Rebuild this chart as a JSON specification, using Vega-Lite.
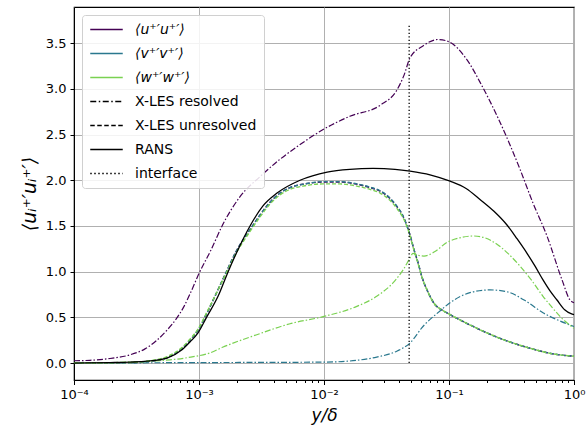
{
  "$schema": "https://vega.github.io/schema/vega-lite/v6.json",
  "width": 500,
  "height": 373,
  "autosize": {"type": "none"},
  "padding": {"left": 74, "top": 7, "right": 12, "bottom": 52},
  "background": "white",
  "config": {
    "font": "DejaVu Sans",
    "view": {"stroke": "black", "strokeWidth": 1.2},
    "line": {"interpolate": "monotone"},
    "axis": {
      "labelFont": "DejaVu Sans",
      "labelFontSize": 13,
      "labelColor": "#000000",
      "titleFont": "DejaVu Sans",
      "titleFontSize": 17,
      "titleFontWeight": "normal",
      "titleFontStyle": "italic",
      "titleColor": "#000000",
      "gridColor": "#b0b0b0",
      "gridWidth": 1,
      "tickColor": "#000000",
      "domainColor": "#000000",
      "tickSize": 4
    }
  },
  "datasets": {
    "u_res": [
      {"x": 0.0001, "v": 0.025}, {"x": 0.000134, "v": 0.03}, {"x": 0.000194, "v": 0.05}, {"x": 0.000281, "v": 0.09},
      {"x": 0.00037, "v": 0.155}, {"x": 0.000461, "v": 0.25}, {"x": 0.000555, "v": 0.36}, {"x": 0.000655, "v": 0.48},
      {"x": 0.000759, "v": 0.62}, {"x": 0.000863, "v": 0.78}, {"x": 0.001, "v": 0.98}, {"x": 0.00125, "v": 1.24},
      {"x": 0.00153, "v": 1.5}, {"x": 0.00213, "v": 1.82}, {"x": 0.00308, "v": 2.04}, {"x": 0.00445, "v": 2.23},
      {"x": 0.00643, "v": 2.39}, {"x": 0.01, "v": 2.56}, {"x": 0.0161, "v": 2.7}, {"x": 0.0281, "v": 2.82},
      {"x": 0.0384, "v": 2.99}, {"x": 0.0437, "v": 3.15}, {"x": 0.0488, "v": 3.34}, {"x": 0.0619, "v": 3.47},
      {"x": 0.0817, "v": 3.54}, {"x": 0.0982, "v": 3.52}, {"x": 0.139, "v": 3.32}, {"x": 0.184, "v": 3.03},
      {"x": 0.247, "v": 2.68}, {"x": 0.37, "v": 2.12}, {"x": 0.47, "v": 1.75}, {"x": 0.608, "v": 1.39},
      {"x": 0.802, "v": 0.91}, {"x": 0.929, "v": 0.69}, {"x": 1.0, "v": 0.66}
    ],
    "v_res": [
      {"x": 0.0001, "v": 0.0}, {"x": 0.001, "v": 0.005}, {"x": 0.01, "v": 0.01}, {"x": 0.0183, "v": 0.03},
      {"x": 0.0264, "v": 0.065}, {"x": 0.0382, "v": 0.13}, {"x": 0.0488, "v": 0.22}, {"x": 0.0619, "v": 0.4},
      {"x": 0.0847, "v": 0.57}, {"x": 0.102, "v": 0.66}, {"x": 0.147, "v": 0.77}, {"x": 0.213, "v": 0.8},
      {"x": 0.291, "v": 0.78}, {"x": 0.421, "v": 0.67}, {"x": 0.565, "v": 0.55}, {"x": 0.773, "v": 0.46},
      {"x": 1.0, "v": 0.4}
    ],
    "w_res": [
      {"x": 0.0001, "v": 0.0}, {"x": 0.000194, "v": 0.005}, {"x": 0.000406, "v": 0.02}, {"x": 0.000586, "v": 0.035},
      {"x": 0.00086, "v": 0.065}, {"x": 0.00122, "v": 0.11}, {"x": 0.00156, "v": 0.175}, {"x": 0.0029, "v": 0.31},
      {"x": 0.00535, "v": 0.43}, {"x": 0.01, "v": 0.51}, {"x": 0.0183, "v": 0.62}, {"x": 0.0264, "v": 0.73},
      {"x": 0.0358, "v": 0.88}, {"x": 0.043, "v": 1.02}, {"x": 0.0488, "v": 1.15}, {"x": 0.0515, "v": 1.2},
      {"x": 0.0565, "v": 1.18}, {"x": 0.0631, "v": 1.17}, {"x": 0.0772, "v": 1.22}, {"x": 0.0964, "v": 1.32},
      {"x": 0.122, "v": 1.37}, {"x": 0.156, "v": 1.39}, {"x": 0.194, "v": 1.37}, {"x": 0.242, "v": 1.3},
      {"x": 0.296, "v": 1.2}, {"x": 0.37, "v": 1.06}, {"x": 0.461, "v": 0.9}, {"x": 0.565, "v": 0.73},
      {"x": 0.667, "v": 0.61}, {"x": 0.773, "v": 0.51}, {"x": 0.895, "v": 0.43}, {"x": 1.0, "v": 0.38}
    ],
    "u_unres": [
      {"x": 0.0001, "v": 0.0}, {"x": 0.000281, "v": 0.005}, {"x": 0.000406, "v": 0.02}, {"x": 0.000555, "v": 0.06},
      {"x": 0.000731, "v": 0.16}, {"x": 0.000846, "v": 0.25}, {"x": 0.000982, "v": 0.36}, {"x": 0.00116, "v": 0.55},
      {"x": 0.00134, "v": 0.73}, {"x": 0.00162, "v": 0.97}, {"x": 0.00198, "v": 1.22}, {"x": 0.00256, "v": 1.46},
      {"x": 0.00308, "v": 1.62}, {"x": 0.0037, "v": 1.76}, {"x": 0.00445, "v": 1.86}, {"x": 0.00535, "v": 1.92},
      {"x": 0.00705, "v": 1.96}, {"x": 0.00982, "v": 1.98}, {"x": 0.0134, "v": 1.98}, {"x": 0.0177, "v": 1.96},
      {"x": 0.0233, "v": 1.92}, {"x": 0.0281, "v": 1.88}, {"x": 0.0337, "v": 1.8}, {"x": 0.0384, "v": 1.71},
      {"x": 0.0421, "v": 1.63}, {"x": 0.0453, "v": 1.53}, {"x": 0.0488, "v": 1.4}, {"x": 0.0525, "v": 1.24},
      {"x": 0.0565, "v": 1.1}, {"x": 0.0608, "v": 0.94}, {"x": 0.0667, "v": 0.8}, {"x": 0.0772, "v": 0.64},
      {"x": 0.088, "v": 0.58}, {"x": 0.102, "v": 0.53}, {"x": 0.156, "v": 0.4}, {"x": 0.256, "v": 0.27},
      {"x": 0.45, "v": 0.16}, {"x": 0.679, "v": 0.1}, {"x": 1.0, "v": 0.075}
    ],
    "v_unres": [
      {"x": 0.0001, "v": 0.0}, {"x": 0.000281, "v": 0.005}, {"x": 0.000406, "v": 0.02}, {"x": 0.000555, "v": 0.06},
      {"x": 0.000731, "v": 0.16}, {"x": 0.000846, "v": 0.25}, {"x": 0.000982, "v": 0.36}, {"x": 0.00116, "v": 0.55},
      {"x": 0.00134, "v": 0.73}, {"x": 0.00162, "v": 0.97}, {"x": 0.00198, "v": 1.22}, {"x": 0.00256, "v": 1.46},
      {"x": 0.00308, "v": 1.62}, {"x": 0.0037, "v": 1.76}, {"x": 0.00445, "v": 1.86}, {"x": 0.00535, "v": 1.92},
      {"x": 0.00705, "v": 1.96}, {"x": 0.00982, "v": 1.985}, {"x": 0.0134, "v": 1.985}, {"x": 0.0177, "v": 1.965},
      {"x": 0.0233, "v": 1.925}, {"x": 0.0281, "v": 1.885}, {"x": 0.0337, "v": 1.805}, {"x": 0.0384, "v": 1.715},
      {"x": 0.0421, "v": 1.63}, {"x": 0.0453, "v": 1.53}, {"x": 0.0488, "v": 1.4}, {"x": 0.0525, "v": 1.24},
      {"x": 0.0565, "v": 1.1}, {"x": 0.0608, "v": 0.94}, {"x": 0.0667, "v": 0.8}, {"x": 0.0772, "v": 0.64},
      {"x": 0.088, "v": 0.58}, {"x": 0.102, "v": 0.53}, {"x": 0.156, "v": 0.4}, {"x": 0.256, "v": 0.27},
      {"x": 0.45, "v": 0.16}, {"x": 0.679, "v": 0.1}, {"x": 1.0, "v": 0.075}
    ],
    "w_unres": [
      {"x": 0.0001, "v": 0.0}, {"x": 0.000281, "v": 0.006}, {"x": 0.000406, "v": 0.025}, {"x": 0.000555, "v": 0.07},
      {"x": 0.000731, "v": 0.17}, {"x": 0.000846, "v": 0.26}, {"x": 0.000982, "v": 0.37}, {"x": 0.00116, "v": 0.56},
      {"x": 0.00134, "v": 0.73}, {"x": 0.00162, "v": 0.96}, {"x": 0.00198, "v": 1.2}, {"x": 0.00256, "v": 1.44},
      {"x": 0.00308, "v": 1.6}, {"x": 0.0037, "v": 1.74}, {"x": 0.00445, "v": 1.84}, {"x": 0.00535, "v": 1.9},
      {"x": 0.00705, "v": 1.94}, {"x": 0.00982, "v": 1.96}, {"x": 0.0134, "v": 1.96}, {"x": 0.0177, "v": 1.94},
      {"x": 0.0233, "v": 1.9}, {"x": 0.0281, "v": 1.86}, {"x": 0.0337, "v": 1.78}, {"x": 0.0384, "v": 1.69},
      {"x": 0.0421, "v": 1.61}, {"x": 0.0453, "v": 1.52}, {"x": 0.0488, "v": 1.39}, {"x": 0.0525, "v": 1.23},
      {"x": 0.0565, "v": 1.09}, {"x": 0.0608, "v": 0.94}, {"x": 0.0667, "v": 0.8}, {"x": 0.0772, "v": 0.64},
      {"x": 0.088, "v": 0.58}, {"x": 0.102, "v": 0.53}, {"x": 0.156, "v": 0.4}, {"x": 0.256, "v": 0.27},
      {"x": 0.45, "v": 0.16}, {"x": 0.679, "v": 0.1}, {"x": 1.0, "v": 0.075}
    ],
    "rans": [
      {"x": 0.0001, "v": 0.0}, {"x": 0.000194, "v": 0.005}, {"x": 0.000281, "v": 0.01}, {"x": 0.000384, "v": 0.02},
      {"x": 0.000555, "v": 0.055}, {"x": 0.000731, "v": 0.145}, {"x": 0.000846, "v": 0.23}, {"x": 0.000982, "v": 0.33},
      {"x": 0.00116, "v": 0.51}, {"x": 0.00142, "v": 0.73}, {"x": 0.00171, "v": 1.0}, {"x": 0.00205, "v": 1.24},
      {"x": 0.00256, "v": 1.5}, {"x": 0.00325, "v": 1.72}, {"x": 0.00421, "v": 1.86}, {"x": 0.00643, "v": 2.0},
      {"x": 0.0106, "v": 2.09}, {"x": 0.0161, "v": 2.12}, {"x": 0.0247, "v": 2.13}, {"x": 0.037, "v": 2.12},
      {"x": 0.0488, "v": 2.1}, {"x": 0.0705, "v": 2.06}, {"x": 0.102, "v": 1.99}, {"x": 0.137, "v": 1.91},
      {"x": 0.177, "v": 1.79}, {"x": 0.229, "v": 1.66}, {"x": 0.291, "v": 1.51}, {"x": 0.35, "v": 1.36},
      {"x": 0.421, "v": 1.2}, {"x": 0.488, "v": 1.06}, {"x": 0.565, "v": 0.91}, {"x": 0.643, "v": 0.79},
      {"x": 0.731, "v": 0.69}, {"x": 0.847, "v": 0.58}, {"x": 0.946, "v": 0.54}, {"x": 1.0, "v": 0.53}
    ],
    "iface": [{"x": 0.048, "v": 0.0, "v2": 3.71}]
  },
  "encoding": {
    "x": {
      "field": "x", "type": "quantitative",
      "scale": {"type": "log", "domain": [0.0001, 1], "nice": false},
      "axis": {
        "title": "y/δ",
        "titlePadding": 6,
        "values": [0.0001, 0.0002, 0.0003, 0.0004, 0.0005, 0.0006, 0.0007, 0.0008, 0.0009,
                   0.001, 0.002, 0.003, 0.004, 0.005, 0.006, 0.007, 0.008, 0.009,
                   0.01, 0.02, 0.03, 0.04, 0.05, 0.06, 0.07, 0.08, 0.09,
                   0.1, 0.2, 0.3, 0.4, 0.5, 0.6, 0.7, 0.8, 0.9, 1],
        "labelOverlap": false,
        "labelBound": false,
        "labelFlush": false,
        "labelPadding": 4,
        "labelExpr": "abs(log(datum.value)/LN10 - round(log(datum.value)/LN10)) > 0.01 ? '' : (round(log(datum.value)/LN10) == -4 ? '10⁻⁴' : round(log(datum.value)/LN10) == -3 ? '10⁻³' : round(log(datum.value)/LN10) == -2 ? '10⁻²' : round(log(datum.value)/LN10) == -1 ? '10⁻¹' : '10⁰')",
        "tickSize": {"condition": {"test": "abs(log(datum.value)/LN10 - round(log(datum.value)/LN10)) > 0.01", "value": 2.5}, "value": 4.5},
        "gridOpacity": {"condition": {"test": "abs(log(datum.value)/LN10 - round(log(datum.value)/LN10)) > 0.01", "value": 0}, "value": 1}
      }
    },
    "y": {
      "field": "v", "type": "quantitative",
      "scale": {"domain": [-0.1855, 3.8955], "nice": false, "zero": false},
      "axis": {
        "title": "⟨uᵢ⁺′uᵢ⁺′⟩",
        "titleFontSize": 19,
        "values": [0, 0.5, 1, 1.5, 2, 2.5, 3, 3.5],
        "format": ".1f",
        "titlePadding": 6,
        "labelPadding": 4
      }
    }
  },
  "layer": [
    {
      "data": {"name": "u_res"},
      "mark": {"type": "line", "strokeWidth": 1.2, "strokeDash": [6, 2, 1.5, 2]},
      "encoding": {
        "color": {
          "datum": "⟨u⁺′u⁺′⟩",
          "scale": {
            "domain": ["⟨u⁺′u⁺′⟩", "⟨v⁺′v⁺′⟩", "⟨w⁺′w⁺′⟩", "X-LES resolved", "X-LES unresolved", "RANS", "interface"],
            "range": ["#440154", "#2a788e", "#7ad151", "#000000", "#000000", "#000000", "#000000"]
          },
          "legend": {
            "title": null,
            "orient": "top-left",
            "offset": 8,
            "padding": 7,
            "fillColor": "rgba(255,255,255,0.85)",
            "strokeColor": "#d0d0d0",
            "cornerRadius": 3,
            "labelFont": "DejaVu Sans",
            "labelFontSize": 14,
            "labelColor": "#000000",
            "labelLimit": 300,
            "rowPadding": 9,
            "symbolType": "M-2.5,0H2.5",
            "symbolSize": 169,
            "symbolStrokeWidth": 1.6,
            "symbolOffset": 10,
            "labelOffset": 21,
            "encode": {
              "symbols": {"update": {"strokeDash": {"signal": "datum.label === 'X-LES resolved' ? [6,2.5,1.5,2.5] : datum.label === 'X-LES unresolved' ? [4.5,2.5] : datum.label === 'interface' ? [1.5,2.5] : [1,0]"}}},
              "labels": {"update": {"fontStyle": {"signal": "indexof(datum.label, '⟨') === 0 ? 'italic' : 'normal'"}}}
            }
          }
        }
      }
    },
    {
      "data": {"name": "u_unres"},
      "mark": {"type": "line", "strokeWidth": 1.4, "strokeDash": [4, 2]},
      "encoding": {"color": {"datum": "⟨u⁺′u⁺′⟩"}}
    },
    {
      "data": {"name": "v_res"},
      "mark": {"type": "line", "strokeWidth": 1.2, "strokeDash": [6, 2, 1.5, 2]},
      "encoding": {"color": {"datum": "⟨v⁺′v⁺′⟩"}}
    },
    {
      "data": {"name": "v_unres"},
      "mark": {"type": "line", "strokeWidth": 1.4, "strokeDash": [4, 2]},
      "encoding": {"color": {"datum": "⟨v⁺′v⁺′⟩"}}
    },
    {
      "data": {"name": "w_res"},
      "mark": {"type": "line", "strokeWidth": 1.2, "strokeDash": [6, 2, 1.5, 2]},
      "encoding": {"color": {"datum": "⟨w⁺′w⁺′⟩"}}
    },
    {
      "data": {"name": "w_unres"},
      "mark": {"type": "line", "strokeWidth": 1.4, "strokeDash": [4, 2]},
      "encoding": {"color": {"datum": "⟨w⁺′w⁺′⟩"}}
    },
    {
      "data": {"name": "rans"},
      "mark": {"type": "line", "strokeWidth": 1.3},
      "encoding": {"color": {"datum": "RANS"}}
    },
    {
      "data": {"name": "iface"},
      "mark": {"type": "rule", "strokeWidth": 1.3, "strokeDash": [1.3, 2.2], "color": "#000000"},
      "encoding": {"y2": {"field": "v2"}}
    }
  ]
}
